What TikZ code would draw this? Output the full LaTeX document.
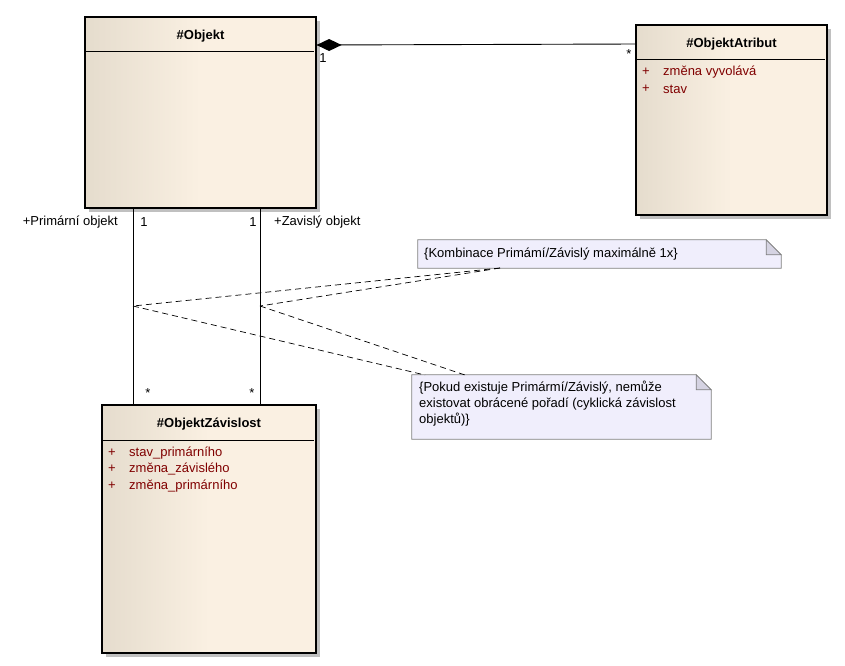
\documentclass[tikz,border=0pt]{standalone}
\usepackage{fontspec}
\setmainfont{Liberation Sans}
\usetikzlibrary{shadows}
\definecolor{clsL}{RGB}{229,220,205}
\definecolor{clsR}{RGB}{250,240,226}
\definecolor{shadowgray}{RGB}{192,192,192}
\definecolor{attrred}{RGB}{128,0,0}
\definecolor{notefill}{RGB}{240,238,252}
\definecolor{notefold}{RGB}{213,211,226}
\definecolor{noteborder}{RGB}{128,128,128}
\begin{document}
\begin{tikzpicture}[x=1pt,y=-1pt,
  every node/.style={font=\fontsize{13}{15}\selectfont, inner sep=0pt},
  classbox/.style={draw=black, line width=1.2pt, left color=clsL, right color=clsR, middle color=clsR,
    general shadow={fill=shadowgray, shadow xshift=4pt, shadow yshift=-4pt}},
  ctitle/.style={font=\fontsize{13}{15}\selectfont\bfseries},
  attr/.style={anchor=west, text=attrred},
  lbl/.style={text=black},
  notedraw/.style={draw=noteborder, fill=notefill, line width=0.8pt},
  foldstyle/.style={draw=noteborder, fill=notefold, line width=0.8pt},
  link/.style={draw=black, line width=0.7pt, dash pattern=on 6pt off 4pt},
  assoc/.style={draw=black, line width=0.9pt}
]
\useasboundingbox[fill=white] (0,0) rectangle (845,665);

% #Objekt
\node[classbox, minimum width=231, minimum height=191] (obj) at (200.5,112.5) {};
\node[ctitle] (objt) at (200.5,36) {\#Objekt};
\draw[line width=0.9pt] (85,51) -- (314,51);

% #ObjektAtribut
\node[classbox, minimum width=191, minimum height=190] (atr) at (731.5,120) {};
\node[ctitle] (atrt) at (731.5,44) {\#ObjektAtribut};
\draw[line width=0.9pt] (636,59) -- (825,59);
\node[attr] (a1p) at (642,72) {+};
\node[attr] (a1) at (663,72) {změna vyvolává};
\node[attr] (a2p) at (642,89) {+};
\node[attr] (a2) at (663,89) {stav};

% #ObjektZávislost
\node[classbox, minimum width=214, minimum height=248] (zav) at (209,529) {};
\node[ctitle] (zavt) at (209,424) {\#ObjektZávislost};
\draw[line width=0.9pt] (102,440) -- (314,440);
\node[attr] (z1p) at (108,453) {+};
\node[attr] (z1) at (129,453) {stav\_primárního};
\node[attr] (z2p) at (108,469) {+};
\node[attr] (z2) at (129,469) {změna\_závislého};
\node[attr] (z3p) at (108,486) {+};
\node[attr] (z3) at (129,486) {změna\_primárního};

% composition
\coordinate (c1) at (obj.east |- 0,45);
\coordinate (c2) at (atr.west |- 0,44);
\draw[assoc] (c1) -- (c2);
\fill[black] (c1) -- ++(12.5,-6) -- ++(12.5,6) -- ++(-12.5,6) -- cycle;
\node[lbl] (m1) at (323,58) {1};
\node[lbl] (m2) at (629,54) {*};

% associations
\coordinate (p1) at (133,208);
\coordinate (p2) at (133,405);
\coordinate (q1) at (260,208);
\coordinate (q2) at (260,405);
\draw[assoc] (p1) -- (p2);
\draw[assoc] (q1) -- (q2);
\coordinate (pm) at (133,306);
\coordinate (qm) at (260,306);
\node[lbl, anchor=east] (lp) at (118,222) {+Primární objekt};
\node[lbl] (lp1) at (144,222) {1};
\node[lbl] (lq1) at (253,222) {1};
\node[lbl, anchor=west] (lq) at (274,222) {+Zavislý objekt};
\node[lbl] (sp) at (148,393) {*};
\node[lbl] (sq) at (252,393) {*};

% note 1
\node[minimum width=363, minimum height=28] (n1) at (599.5,254) {};
\draw[notedraw] (n1.south west) -- (n1.north west) -- ([xshift=-15]n1.north east) -- ([yshift=-15]n1.north east) -- (n1.south east) -- cycle;
\draw[foldstyle] ([xshift=-15]n1.north east) -- ([xshift=-15,yshift=-15]n1.north east) -- ([yshift=-15]n1.north east) -- cycle;
\node[anchor=west] (n1t) at (424,254) {\{Kombinace Primámí/Závislý maximálně 1x\}};

% note 2
\node[minimum width=299, minimum height=64] (n2) at (561.5,407) {};
\draw[notedraw] (n2.south west) -- (n2.north west) -- ([xshift=-15]n2.north east) -- ([yshift=-15]n2.north east) -- (n2.south east) -- cycle;
\draw[foldstyle] ([xshift=-15]n2.north east) -- ([xshift=-15,yshift=-15]n2.north east) -- ([yshift=-15]n2.north east) -- cycle;
\node[anchor=north west, align=left, font=\fontsize{13}{16}\selectfont] (n2t) at (419,381) {\{Pokud existuje Primármí/Závislý, nemůže\\existovat obrácené pořadí (cyklická závislost\\objektů)\}};

% note links
\coordinate (n1a) at (500,268);
\coordinate (n2a) at (425,375);
\coordinate (n2b) at (465,375);
\draw[link] (n1a) -- (pm);
\draw[link] (n1a) -- (qm);
\draw[link] (pm) -- (n2a);
\draw[link] (qm) -- (n2b);
\end{tikzpicture}
\end{document}
